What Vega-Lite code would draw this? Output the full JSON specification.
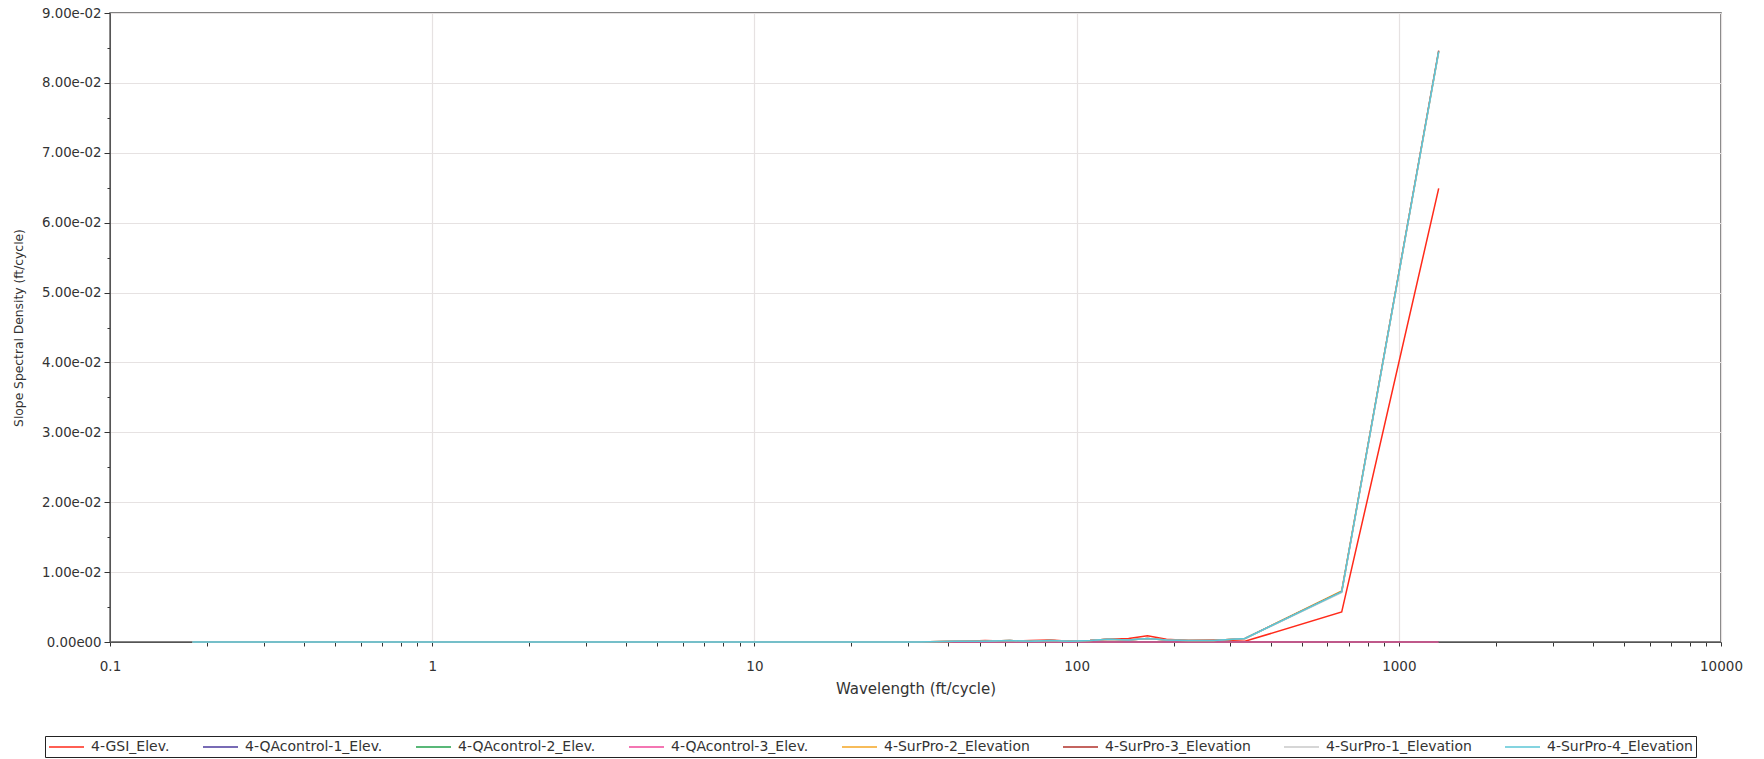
{
  "$schema": "https://vega.github.io/schema/vega-lite/v6.json",
  "width": 1611,
  "height": 629,
  "autosize": {"type": "none"},
  "padding": {"left": 110, "top": 13, "right": 43, "bottom": 117},
  "background": "white",
  "config": {
    "view": {"stroke": "#5a5a5a", "strokeWidth": 1.5},
    "axis": {
      "labelFont": "DejaVu Sans",
      "labelFontSize": 13.3,
      "labelColor": "#333333",
      "titleFont": "DejaVu Sans",
      "titleFontSize": 12.3,
      "titleFontWeight": "normal",
      "titleColor": "#333333",
      "tickColor": "#333333",
      "domainColor": "#555555",
      "gridColor": "#e6e2e2",
      "gridWidth": 1.2
    },
    "legend": {
      "labelFont": "DejaVu Sans",
      "labelFontSize": 14,
      "labelColor": "#333333"
    }
  },
  "data": {
    "values": [
      {"s": "4-GSI_Elev.", "w": 0.18, "v": 0},
      {"s": "4-GSI_Elev.", "w": 1, "v": 0},
      {"s": "4-GSI_Elev.", "w": 10, "v": 0},
      {"s": "4-GSI_Elev.", "w": 32, "v": 0},
      {"s": "4-GSI_Elev.", "w": 42, "v": 0.00005},
      {"s": "4-GSI_Elev.", "w": 52, "v": 0.0002},
      {"s": "4-GSI_Elev.", "w": 62, "v": 0.0001},
      {"s": "4-GSI_Elev.", "w": 72, "v": 0.0002},
      {"s": "4-GSI_Elev.", "w": 83, "v": 0.0003},
      {"s": "4-GSI_Elev.", "w": 95, "v": 0.0001},
      {"s": "4-GSI_Elev.", "w": 110, "v": 0.0002},
      {"s": "4-GSI_Elev.", "w": 125, "v": 0.0004},
      {"s": "4-GSI_Elev.", "w": 145, "v": 0.0005},
      {"s": "4-GSI_Elev.", "w": 166, "v": 0.0009},
      {"s": "4-GSI_Elev.", "w": 190, "v": 0.0004},
      {"s": "4-GSI_Elev.", "w": 222, "v": 0.0002},
      {"s": "4-GSI_Elev.", "w": 266, "v": 0.0003},
      {"s": "4-GSI_Elev.", "w": 333, "v": 0.0001},
      {"s": "4-GSI_Elev.", "w": 665, "v": 0.0043},
      {"s": "4-GSI_Elev.", "w": 1330, "v": 0.0649},

      {"s": "4-QAcontrol-1_Elev.", "w": 0.18, "v": 0},
      {"s": "4-QAcontrol-1_Elev.", "w": 10, "v": 0},
      {"s": "4-QAcontrol-1_Elev.", "w": 100, "v": 0},
      {"s": "4-QAcontrol-1_Elev.", "w": 1330, "v": 0},
      {"s": "4-QAcontrol-2_Elev.", "w": 0.18, "v": 0},
      {"s": "4-QAcontrol-2_Elev.", "w": 10, "v": 0},
      {"s": "4-QAcontrol-2_Elev.", "w": 100, "v": 0},
      {"s": "4-QAcontrol-2_Elev.", "w": 1330, "v": 0},
      {"s": "4-QAcontrol-3_Elev.", "w": 0.18, "v": 0},
      {"s": "4-QAcontrol-3_Elev.", "w": 10, "v": 0},
      {"s": "4-QAcontrol-3_Elev.", "w": 100, "v": 0},
      {"s": "4-QAcontrol-3_Elev.", "w": 1330, "v": 0},

      {"s": "4-SurPro-2_Elevation", "w": 0.18, "v": 0},
      {"s": "4-SurPro-2_Elevation", "w": 1, "v": 0},
      {"s": "4-SurPro-2_Elevation", "w": 10, "v": 0},
      {"s": "4-SurPro-2_Elevation", "w": 32, "v": 0},
      {"s": "4-SurPro-2_Elevation", "w": 42, "v": 0.0001},
      {"s": "4-SurPro-2_Elevation", "w": 52, "v": 0.0001},
      {"s": "4-SurPro-2_Elevation", "w": 62, "v": 0.0002},
      {"s": "4-SurPro-2_Elevation", "w": 72, "v": 0.0001},
      {"s": "4-SurPro-2_Elevation", "w": 83, "v": 0.0002},
      {"s": "4-SurPro-2_Elevation", "w": 95, "v": 0.0001},
      {"s": "4-SurPro-2_Elevation", "w": 110, "v": 0.0002},
      {"s": "4-SurPro-2_Elevation", "w": 125, "v": 0.0004},
      {"s": "4-SurPro-2_Elevation", "w": 145, "v": 0.0003},
      {"s": "4-SurPro-2_Elevation", "w": 166, "v": 0.0005},
      {"s": "4-SurPro-2_Elevation", "w": 190, "v": 0.0003},
      {"s": "4-SurPro-2_Elevation", "w": 222, "v": 0.0002},
      {"s": "4-SurPro-2_Elevation", "w": 266, "v": 0.0002},
      {"s": "4-SurPro-2_Elevation", "w": 333, "v": 0.0005},
      {"s": "4-SurPro-2_Elevation", "w": 665, "v": 0.0073},
      {"s": "4-SurPro-2_Elevation", "w": 1330, "v": 0.0845},

      {"s": "4-SurPro-3_Elevation", "w": 0.18, "v": 0},
      {"s": "4-SurPro-3_Elevation", "w": 1, "v": 0},
      {"s": "4-SurPro-3_Elevation", "w": 10, "v": 0},
      {"s": "4-SurPro-3_Elevation", "w": 32, "v": 0},
      {"s": "4-SurPro-3_Elevation", "w": 42, "v": 0.0001},
      {"s": "4-SurPro-3_Elevation", "w": 52, "v": 0.0001},
      {"s": "4-SurPro-3_Elevation", "w": 62, "v": 0.0002},
      {"s": "4-SurPro-3_Elevation", "w": 72, "v": 0.0001},
      {"s": "4-SurPro-3_Elevation", "w": 83, "v": 0.0002},
      {"s": "4-SurPro-3_Elevation", "w": 95, "v": 0.0001},
      {"s": "4-SurPro-3_Elevation", "w": 110, "v": 0.0002},
      {"s": "4-SurPro-3_Elevation", "w": 125, "v": 0.0004},
      {"s": "4-SurPro-3_Elevation", "w": 145, "v": 0.0003},
      {"s": "4-SurPro-3_Elevation", "w": 166, "v": 0.0005},
      {"s": "4-SurPro-3_Elevation", "w": 190, "v": 0.0003},
      {"s": "4-SurPro-3_Elevation", "w": 222, "v": 0.0002},
      {"s": "4-SurPro-3_Elevation", "w": 266, "v": 0.0002},
      {"s": "4-SurPro-3_Elevation", "w": 333, "v": 0.0005},
      {"s": "4-SurPro-3_Elevation", "w": 665, "v": 0.0072},
      {"s": "4-SurPro-3_Elevation", "w": 1330, "v": 0.0846},

      {"s": "4-SurPro-1_Elevation", "w": 0.18, "v": 0},
      {"s": "4-SurPro-1_Elevation", "w": 1, "v": 0},
      {"s": "4-SurPro-1_Elevation", "w": 10, "v": 0},
      {"s": "4-SurPro-1_Elevation", "w": 32, "v": 0},
      {"s": "4-SurPro-1_Elevation", "w": 42, "v": 0.0001},
      {"s": "4-SurPro-1_Elevation", "w": 52, "v": 0.0001},
      {"s": "4-SurPro-1_Elevation", "w": 62, "v": 0.0002},
      {"s": "4-SurPro-1_Elevation", "w": 72, "v": 0.0001},
      {"s": "4-SurPro-1_Elevation", "w": 83, "v": 0.0002},
      {"s": "4-SurPro-1_Elevation", "w": 95, "v": 0.0001},
      {"s": "4-SurPro-1_Elevation", "w": 110, "v": 0.0002},
      {"s": "4-SurPro-1_Elevation", "w": 125, "v": 0.0004},
      {"s": "4-SurPro-1_Elevation", "w": 145, "v": 0.0003},
      {"s": "4-SurPro-1_Elevation", "w": 166, "v": 0.0005},
      {"s": "4-SurPro-1_Elevation", "w": 190, "v": 0.0003},
      {"s": "4-SurPro-1_Elevation", "w": 222, "v": 0.0002},
      {"s": "4-SurPro-1_Elevation", "w": 266, "v": 0.0002},
      {"s": "4-SurPro-1_Elevation", "w": 333, "v": 0.0005},
      {"s": "4-SurPro-1_Elevation", "w": 665, "v": 0.0071},
      {"s": "4-SurPro-1_Elevation", "w": 1330, "v": 0.0844},

      {"s": "4-SurPro-4_Elevation", "w": 0.18, "v": 0},
      {"s": "4-SurPro-4_Elevation", "w": 1, "v": 0},
      {"s": "4-SurPro-4_Elevation", "w": 10, "v": 0},
      {"s": "4-SurPro-4_Elevation", "w": 32, "v": 0},
      {"s": "4-SurPro-4_Elevation", "w": 42, "v": 0.0001},
      {"s": "4-SurPro-4_Elevation", "w": 52, "v": 0.0001},
      {"s": "4-SurPro-4_Elevation", "w": 62, "v": 0.0002},
      {"s": "4-SurPro-4_Elevation", "w": 72, "v": 0.0001},
      {"s": "4-SurPro-4_Elevation", "w": 83, "v": 0.0002},
      {"s": "4-SurPro-4_Elevation", "w": 95, "v": 0.0001},
      {"s": "4-SurPro-4_Elevation", "w": 110, "v": 0.0002},
      {"s": "4-SurPro-4_Elevation", "w": 125, "v": 0.0004},
      {"s": "4-SurPro-4_Elevation", "w": 145, "v": 0.0003},
      {"s": "4-SurPro-4_Elevation", "w": 166, "v": 0.0005},
      {"s": "4-SurPro-4_Elevation", "w": 190, "v": 0.0003},
      {"s": "4-SurPro-4_Elevation", "w": 222, "v": 0.0002},
      {"s": "4-SurPro-4_Elevation", "w": 266, "v": 0.0002},
      {"s": "4-SurPro-4_Elevation", "w": 333, "v": 0.0005},
      {"s": "4-SurPro-4_Elevation", "w": 665, "v": 0.0072},
      {"s": "4-SurPro-4_Elevation", "w": 1330, "v": 0.0845}
    ]
  },
  "mark": {"type": "line", "strokeWidth": 1.5},
  "encoding": {
    "x": {
      "field": "w",
      "type": "quantitative",
      "title": "Wavelength (ft/cycle)",
      "scale": {"type": "log", "domain": [0.1, 10000], "nice": false},
      "axis": {
        "values": [0.1,0.2,0.3,0.4,0.5,0.6,0.7,0.8,0.9,1,2,3,4,5,6,7,8,9,10,20,30,40,50,60,70,80,90,100,200,300,400,500,600,700,800,900,1000,2000,3000,4000,5000,6000,7000,8000,9000,10000],
        "labelExpr": "abs(log(datum.value)/LN10 - round(log(datum.value)/LN10)) < 1e-6 ? format(datum.value, '~g') : ''",
        "gridOpacity": {"condition": {"test": "abs(log(datum.value)/LN10 - round(log(datum.value)/LN10)) < 1e-6", "value": 1}, "value": 0},
        "tickSize": 4,
        "labelFontSize": 13.5,
        "labelPadding": 13,
        "titleFontSize": 15,
        "titlePadding": 9,
        "labelFlush": false,
        "labelOverlap": false
      }
    },
    "y": {
      "field": "v",
      "type": "quantitative",
      "title": "Slope Spectral Density (ft/cycle)",
      "scale": {"domain": [0, 0.09], "nice": false},
      "axis": {
        "values": [0,0.005,0.01,0.015,0.02,0.025,0.03,0.035,0.04,0.045,0.05,0.055,0.06,0.065,0.07,0.075,0.08,0.085,0.09],
        "labelExpr": "round(datum.value*1000) % 10 == 0 ? (datum.value == 0 ? '0.00e00' : format(datum.value*100, '.2f') + 'e-02') : ''",
        "gridOpacity": {"condition": {"test": "round(datum.value*1000) % 10 == 0", "value": 1}, "value": 0},
        "tickSize": {"condition": {"test": "round(datum.value*1000) % 10 == 0", "value": 6}, "value": 3},
        "labelPadding": 3,
        "titlePadding": 16,
        "labelFlush": false,
        "labelOverlap": false
      }
    },
    "color": {
      "field": "s",
      "type": "nominal",
      "scale": {
        "domain": ["4-GSI_Elev.", "4-QAcontrol-1_Elev.", "4-QAcontrol-2_Elev.", "4-QAcontrol-3_Elev.", "4-SurPro-2_Elevation", "4-SurPro-3_Elevation", "4-SurPro-1_Elevation", "4-SurPro-4_Elevation"],
        "range": ["#ff2a1a", "#4b3a9c", "#22a04b", "#f0489a", "#f5a623", "#b0302a", "#c8c8c8", "#5bc6d6"]
      },
      "legend": {
        "title": null,
        "orient": "none",
        "legendX": -65,
        "legendY": 723,
        "direction": "horizontal",
        "columns": 8,
        "symbolType": "M-1,0H4",
        "symbolSize": 196,
        "symbolStrokeWidth": 1.5,
        "labelOffset": 27,
        "columnPadding": 30,
        "strokeColor": "#222222",
        "padding": 3,
        "labelLimit": 300
      }
    }
  }
}
